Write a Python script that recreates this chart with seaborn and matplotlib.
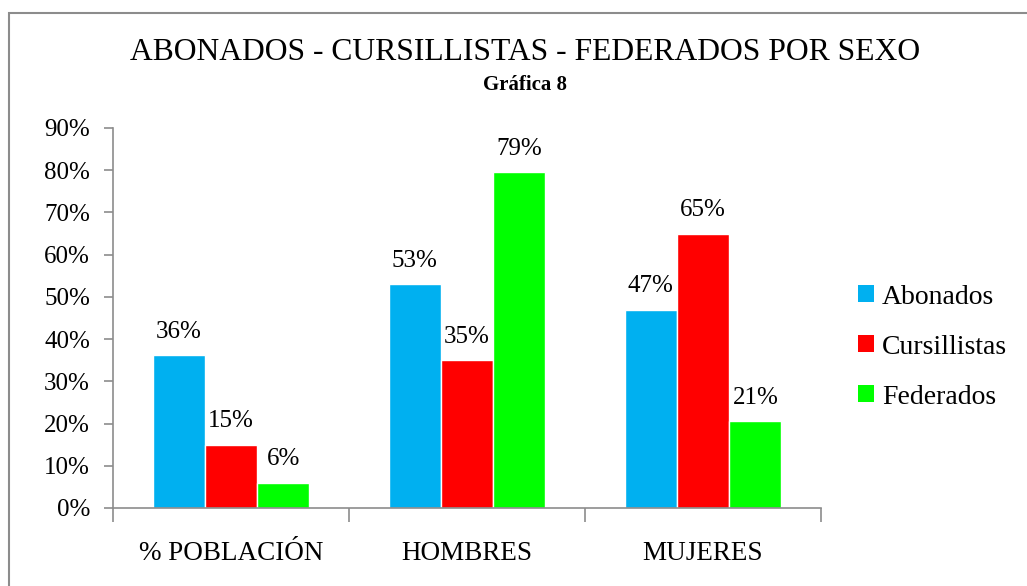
import pandas as pd
import numpy as np
import seaborn as sns
import matplotlib.pyplot as plt
from matplotlib.patches import Rectangle, Patch

# datos de la grafica
categorias = ['% POBLACIÓN', 'HOMBRES', 'MUJERES']
series = ['Abonados', 'Cursillistas', 'Federados']
abonados = [36.2, 53.0, 47.0]
cursillistas = [15.0, 35.0, 65.0]
federados = [6.0, 79.5, 20.5]
etiquetas = [['36%', '53%', '47%'], ['15%', '35%', '65%'], ['6%', '79%', '21%']]
colores = ['#00B0F0', '#FF0000', '#00FF00']

df = pd.DataFrame({
    'categoria': categorias * 3,
    'serie': [s for s in series for _ in categorias],
    'valor': abonados + cursillistas + federados,
})

sns.set_style('white')
plt.rcParams['font.family'] = ['Liberation Serif', 'DejaVu Serif']
plt.rcParams['text.color'] = 'black'
plt.rcParams['xtick.labelcolor'] = 'black'
plt.rcParams['ytick.labelcolor'] = 'black'

fig = plt.figure(figsize=(10.27, 5.86), dpi=100)
ax = fig.add_axes([113/1027, 1-508/586, (821-113)/1027, (508-128)/586])

sns.barplot(data=df, x='categoria', y='valor', hue='serie', palette=colores,
            width=0.665, saturation=1, ax=ax, legend=False)

for cont, labs in zip(ax.containers, etiquetas):
    ax.bar_label(cont, labels=labs, padding=9, fontsize=18, color='black')

ax.set_ylim(0, 90)
ax.set_xlim(-0.5, 2.5)
ax.set_yticks(np.arange(0, 91, 10))
ax.set_yticklabels([f'{v}%' for v in range(0, 91, 10)], fontsize=18)
ax.set_xticks(range(3))
ax.set_xticklabels(categorias, fontsize=19.5)
ax.set_xticks([-0.5, 0.5, 1.5, 2.5], minor=True)
ax.tick_params(axis='x', which='major', bottom=True, length=0, pad=24)
ax.tick_params(axis='x', which='minor', bottom=True, length=10, color='#8c8c8c', width=1.2)
ax.tick_params(axis='y', left=True, length=6.5, color='#8c8c8c', width=1.2, pad=10)
ax.set_xlabel('')
ax.set_ylabel('')
for s in ['top', 'right']:
    ax.spines[s].set_visible(False)
for s in ['left', 'bottom']:
    ax.spines[s].set_color('#8c8c8c')
    ax.spines[s].set_linewidth(1.2)

handles = [Patch(facecolor=c, edgecolor='none') for c in colores]
fig.legend(handles, series, loc='center left', bbox_to_anchor=(858/1027, 1-347/586),
           frameon=False, fontsize=20, handlelength=0.56, handleheight=0.56,
           handletextpad=0.3, labelspacing=0.9, borderpad=0, borderaxespad=0)

fig.text(525/1027, 1-53/586, 'ABONADOS - CURSILLISTAS - FEDERADOS POR SEXO',
         ha='center', va='center', fontsize=22.8)
fig.text(525/1027, 1-85/586, 'Gráfica 8', ha='center', va='center',
         fontsize=15, fontweight='bold')

fig.patches.append(Rectangle((9/1027, -0.02), 1.05, 1-13/586+0.02, transform=fig.transFigure,
                             fill=False, edgecolor='#8c8c8c', linewidth=1.5))

fig.savefig('out.png', dpi=100)
